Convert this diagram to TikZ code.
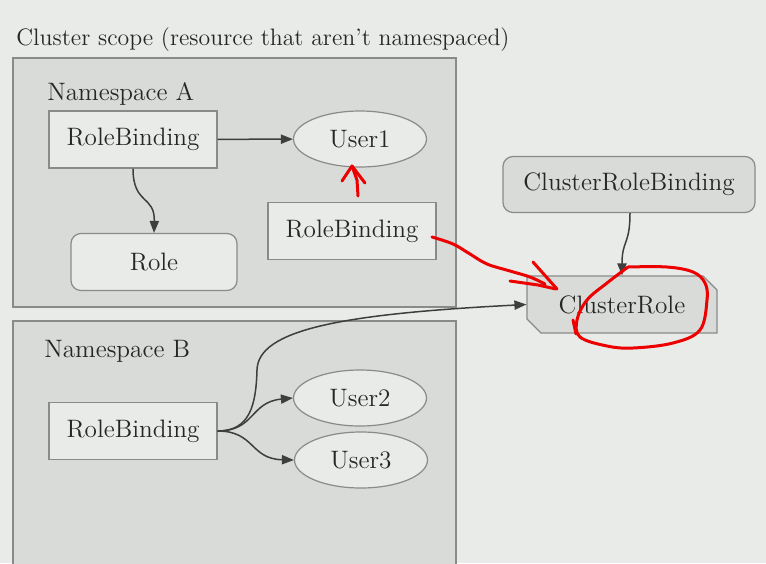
\documentclass[tikz,border=0pt]{standalone}
\usepackage{xcolor}
\usepackage{tikz}
\usetikzlibrary{shapes.geometric, shapes.misc, positioning, arrows.meta}

\definecolor{bgcol}{RGB}{233,235,232}
\definecolor{nscol}{RGB}{217,219,216}
\definecolor{framecol}{RGB}{138,138,138}
\definecolor{edgecol}{RGB}{62,62,62}
\definecolor{inkred}{RGB}{236,0,0}

\begin{document}
\begin{tikzpicture}[x=0.5pt, y=-0.5pt, >={Triangle[length=6pt,width=4.6pt]},
  every node/.style={font=\fontsize{12.6}{15}\selectfont, text=black!85},
  nsbox/.style={draw=framecol,fill=nscol,line width=0.6pt,inner sep=0pt,minimum width=221.5pt},
  objbox/.style={draw=framecol,fill=bgcol,line width=0.6pt,inner sep=0pt,minimum width=84pt,minimum height=28.5pt},
  userell/.style={ellipse,draw=framecol,fill=bgcol,line width=0.6pt,inner sep=0pt,minimum width=66.5pt,minimum height=28pt},
  rolebox/.style={objbox,rounded corners=5pt},
  clusterbox/.style={draw=framecol,fill=nscol,line width=0.6pt,inner sep=0pt,minimum height=28pt},
  edge/.style={->,draw=edgecol,line width=0.75pt},
  redink/.style={draw=inkred,line width=1.5pt,line cap=round,line join=round}]
  \clip (0,0) rectangle (766,563);
  \fill[bgcol] (0,0) rectangle (766,563);
  \node[anchor=base west,inner sep=0pt,font=\fontsize{11.9}{14}\selectfont] (title) at (16,45) {Cluster scope (resource that aren't namespaced)};

  % namespace A
  \node[nsbox,minimum height=124.5pt] (nsA) at (234.5,182.5) {};
  \node[anchor=base west,inner sep=0pt] (nsAlabel) at (47,100) {Namespace A};
  \node[objbox] (rbA) at (133,139.5) {RoleBinding};
  \node[userell] (user1) at (360,139) {User1};
  \node[rolebox,minimum width=83pt] (role) at (154,262) {Role};
  \node[objbox] (rbA2) at (352,231) {RoleBinding};

  % namespace B
  \node[nsbox,minimum height=130pt] (nsB) at (234.5,451) {};
  \node[anchor=base west,inner sep=0pt] (nsBlabel) at (44,357) {Namespace B};
  \node[objbox] (rbB) at (133,431) {RoleBinding};
  \node[userell] (user2) at (360,398) {User2};
  \node[userell] (user3) at (361,460) {User3};

  % cluster objects
  \node[clusterbox,rounded corners=5pt,minimum width=126pt] (crb) at (629,184.5) {ClusterRoleBinding};
  \node[clusterbox,chamfered rectangle,chamfered rectangle corners={north east,south west},
    chamfered rectangle xsep=3.5pt,chamfered rectangle ysep=3.5pt,
    minimum width=95pt,minimum height=28.5pt] (crole) at (622,304.5) {ClusterRole};

  \draw[edge] (rbA) -- (user1);
  \draw[edge] (rbA.south) .. controls (133,205) and (155,195) .. (role.north);
  \draw[edge] (rbB.east) .. controls (255,431) and (250,402) .. (user2.west);
  \draw[edge] (rbB.east) .. controls (255,431) and (250,459) .. (user3.west);
  \draw[edge] (rbB.east) .. controls (250,431) and (256,405) .. (257,370)
    .. controls (258,330) and (340,314) .. (crole.west);
  \draw[edge] (crb.south -| 630,0) .. controls (630,245) and (622,240) .. (crole.north);

  % hand-drawn marks
  \draw[redink] (358,196) -- (357,180) -- (352,166);
  \draw[redink] (342,181) -- (352,166) -- (365,183);
  \draw[redink] plot[smooth,tension=0.6] coordinates {(432,237) (453,244) (470,254) (487,264) (510,271) (530,277) (545,284)};
  \draw[redink] (533,262) -- (557,289);
  \draw[redink] (510,281) -- (538,285) -- (556,289);
  \draw[redink] plot[smooth,tension=0.6] coordinates {(628,267) (607,283) (587,300) (577,320) (580,337) (607,346) (633,348) (673,343) (700,330) (707,300) (705,283) (693,272) (667,267) (628,267)};
  \draw[redink] (573,320) -- (576,334);
\end{tikzpicture}
\end{document}
